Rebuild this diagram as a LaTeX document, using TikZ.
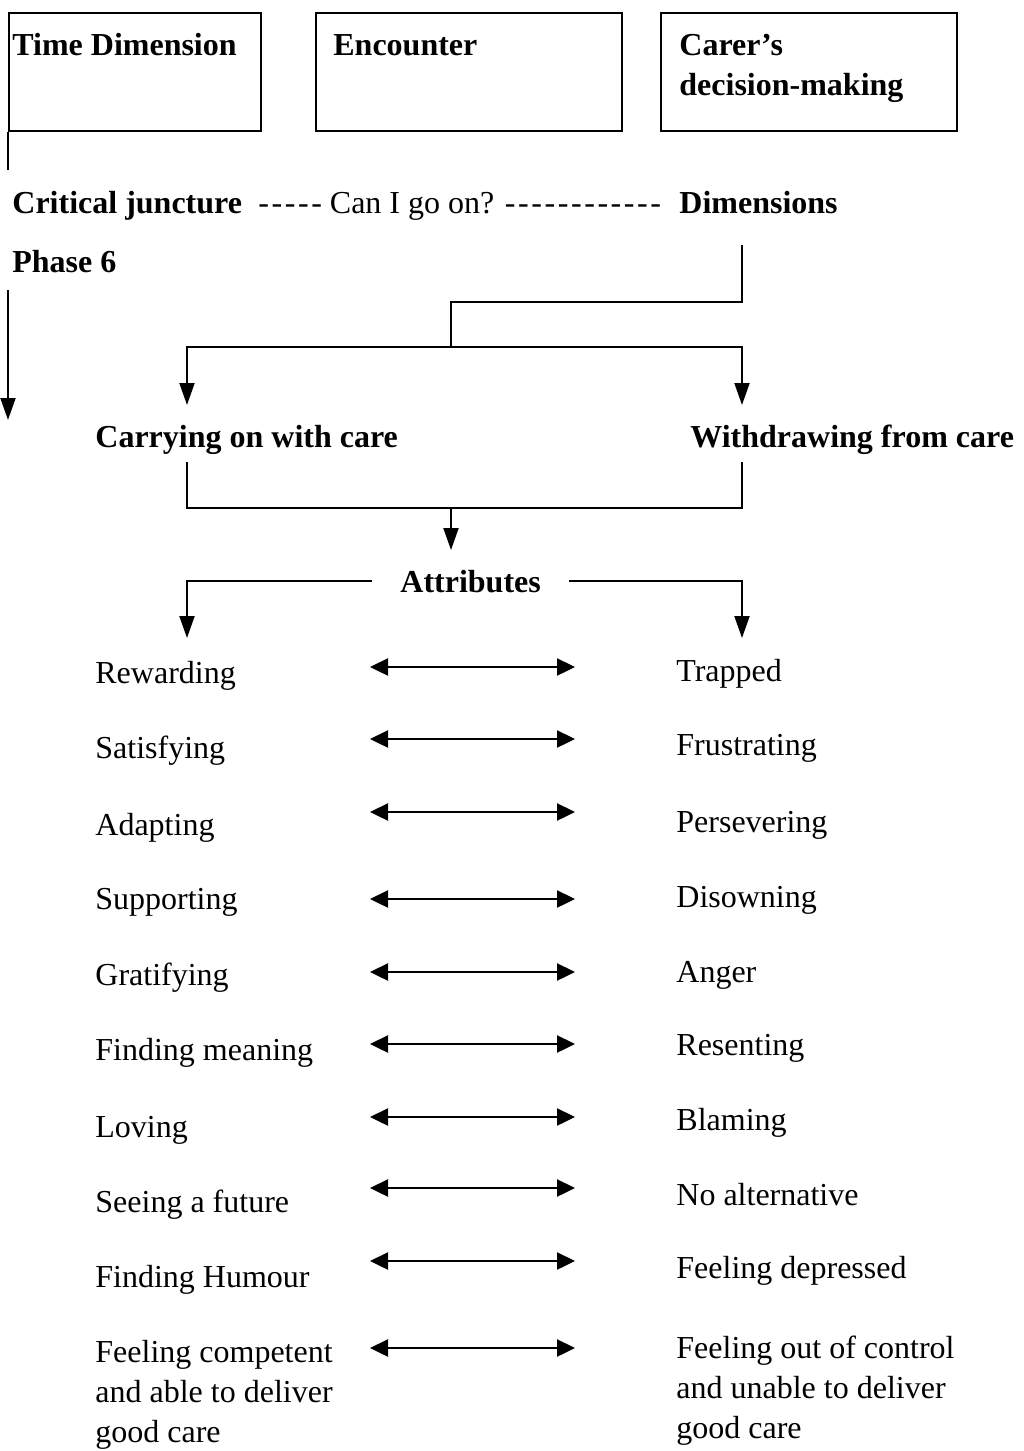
\documentclass[tikz,border=0pt]{standalone}
\usepackage{fontspec}
\setmainfont{Liberation Serif}
\usetikzlibrary{arrows.meta,positioning}
\tikzset{
  arr/.style={-{Triangle[length=11pt,width=7.5pt]},line width=1pt},
  darr/.style={{Triangle[length=9pt,width=8.5pt]}-{Triangle[length=9pt,width=8.5pt]},line width=1.2pt},
  link/.style={line width=1pt},
  hbox/.style={rectangle,draw,line width=1pt,anchor=north west,
    minimum height=59pt,inner sep=0pt},
  txt/.style={anchor=base west,inner sep=0pt,font=\fontsize{16}{20}\selectfont},
  btxt/.style={txt,font=\fontsize{16}{20}\selectfont\bfseries},
}
\newcommand{\dashrun}[1]{{\addfontfeatures{Ligatures=TeXOff,LetterSpace=8}#1}}

\begin{document}
\begin{tikzpicture}[x=0.5pt,y=-0.5pt]
\useasboundingbox (0,0) rectangle (1023,1451);

% header boxes
\node[hbox,minimum width=126pt] (tbox) at (8,12) {};
\node[hbox,minimum width=153pt] (ebox) at (315,12) {};
\node[hbox,minimum width=148pt] (cbox) at (660,12) {};
\node[btxt] (time) at (12,55) {Time Dimension};
\node[btxt] (enc) at (333,55) {Encounter};
% base of a multi-line node sits on its last line
\node[btxt,align=left] (carer) at (679,95) {Carer's\\decision-making};

% critical juncture line
\node[btxt] (crit) at (12,213) {Critical juncture};
\node[txt] (goon) at (258,213) {\dashrun{-----} Can I go on? \dashrun{------------}};
\node[btxt] (dims) at (679,213) {Dimensions};
\node[btxt] (phase) at (12,272) {Phase 6};

\coordinate (t1) at (8,170);
\coordinate (t2) at (8,290);
\coordinate (t3) at (8,420);
\draw[link] (tbox.south west) -- (t1);
\draw[arr] (t2) -- (t3);

% split into the two courses
\coordinate (d0) at (742,245);
\coordinate (fork) at (451,347);
\coordinate (cl) at (187,405);
\coordinate (cr) at (742,405);
\draw[link] (d0) -- ++(0,57) -| (fork);
\draw[arr] (fork) -| (cl);
\draw[arr] (fork) -| (cr);

\node[btxt] (carry) at (95,447) {Carrying on with care};
\node[btxt] (withd) at (690,447) {Withdrawing from care};

\coordinate (ul) at (187,462);
\coordinate (ur) at (742,462);
\coordinate (join) at (451,508);
\coordinate (at0) at (451,550);
\draw[link] (ul) |- (join) -| (ur);
\draw[arr] (join) -- (at0);

\node[btxt,inner xsep=14pt] (attr) at (372,592) {Attributes};
\coordinate (al) at (187,638);
\coordinate (ar) at (742,638);
\draw[arr] (attr.west) -| (al);
\draw[arr] (attr.east) -| (ar);

% attributes, left side
\node[txt] (l1) at (95,683) {Rewarding};
\node[txt] (l2) at (95,758) {Satisfying};
\node[txt] (l3) at (95,835) {Adapting};
\node[txt] (l4) at (95,909) {Supporting};
\node[txt] (l5) at (95,985) {Gratifying};
\node[txt] (l6) at (95,1060) {Finding meaning};
\node[txt] (l7) at (95,1137) {Loving};
\node[txt] (l8) at (95,1212) {Seeing a future};
\node[txt] (l9) at (95,1287) {Finding Humour};
\node[txt,align=left] (l10) at (95,1442) {Feeling competent\\and able to deliver\\good care};

% attributes, right side
\node[txt] (r1) at (676,681) {Trapped};
\node[txt] (r2) at (676,755) {Frustrating};
\node[txt] (r3) at (676,832) {Persevering};
\node[txt] (r4) at (676,907) {Disowning};
\node[txt] (r5) at (676,982) {Anger};
\node[txt] (r6) at (676,1055) {Resenting};
\node[txt] (r7) at (676,1130) {Blaming};
\node[txt] (r8) at (676,1205) {No alternative};
\node[txt] (r9) at (676,1278) {Feeling depressed};
\node[txt,align=left] (r10) at (676,1438) {Feeling out of control\\and unable to deliver\\good care};

% two-way arrows
\coordinate (a1) at (370,667);  \coordinate (b1) at (575,667);
\coordinate (a2) at (370,739);  \coordinate (b2) at (575,739);
\coordinate (a3) at (370,812);  \coordinate (b3) at (575,812);
\coordinate (a4) at (370,899);  \coordinate (b4) at (575,899);
\coordinate (a5) at (370,972);  \coordinate (b5) at (575,972);
\coordinate (a6) at (370,1044); \coordinate (b6) at (575,1044);
\coordinate (a7) at (370,1117); \coordinate (b7) at (575,1117);
\coordinate (a8) at (370,1188); \coordinate (b8) at (575,1188);
\coordinate (a9) at (370,1261); \coordinate (b9) at (575,1261);
\coordinate (a10) at (370,1348); \coordinate (b10) at (575,1348);
\draw[darr] (a1) -- (b1);
\draw[darr] (a2) -- (b2);
\draw[darr] (a3) -- (b3);
\draw[darr] (a4) -- (b4);
\draw[darr] (a5) -- (b5);
\draw[darr] (a6) -- (b6);
\draw[darr] (a7) -- (b7);
\draw[darr] (a8) -- (b8);
\draw[darr] (a9) -- (b9);
\draw[darr] (a10) -- (b10);
\end{tikzpicture}
\end{document}
